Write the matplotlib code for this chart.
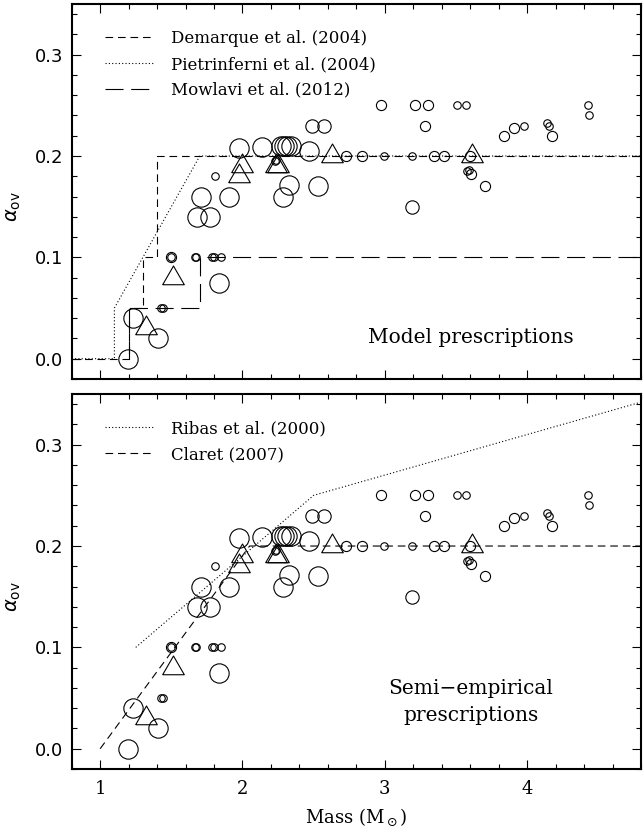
import matplotlib
matplotlib.use('Agg')
import matplotlib.pyplot as plt
from matplotlib.ticker import MultipleLocator

plt.rcParams['lines.scale_dashes'] = False
plt.rcParams['mathtext.fontset'] = 'dejavusans'

# ---------------- data ----------------
circle_mass = [1.194, 1.229, 1.404, 1.428, 1.440, 1.500, 1.500, 1.665, 1.672,
               1.785, 1.800, 1.848, 1.837, 1.712, 1.907, 1.680, 1.774, 1.806,
               1.972, 2.140, 2.269, 2.292, 2.316, 2.339, 2.230, 2.237,
               2.327, 2.285, 2.533, 2.468, 2.487, 2.573, 2.725, 2.837,
               2.970, 2.994, 3.188, 3.211, 3.304, 3.281, 3.347, 3.414,
               3.508, 3.567, 3.600, 3.578, 3.590, 3.608, 3.707, 3.188,
               3.835, 3.905, 3.975, 4.139, 4.155, 4.174, 4.426, 4.438]
circle_alpha = [0.000, 0.040, 0.020, 0.050, 0.050, 0.100, 0.100, 0.100, 0.100,
                0.100, 0.100, 0.100, 0.075, 0.160, 0.160, 0.140, 0.140, 0.180,
                0.208, 0.209, 0.210, 0.210, 0.210, 0.210, 0.195, 0.196,
                0.171, 0.160, 0.170, 0.205, 0.230, 0.230, 0.200, 0.200,
                0.250, 0.200, 0.200, 0.250, 0.250, 0.230, 0.200, 0.200,
                0.250, 0.250, 0.200, 0.185, 0.186, 0.182, 0.170, 0.150,
                0.220, 0.228, 0.230, 0.233, 0.230, 0.220, 0.250, 0.240]
circle_class = ['L', 'L', 'L', 'XS', 'XS', 'S', 'XS', 'XS', 'XS',
                'XS', 'XS', 'XS', 'L', 'L', 'L', 'L', 'L', 'XS',
                'L', 'L', 'L', 'L', 'L', 'L', 'XS', 'XS',
                'L', 'L', 'L', 'L', 'M', 'M', 'S', 'S',
                'S', 'XS', 'XS', 'S', 'S', 'S', 'S', 'S',
                'XS', 'XS', 'S', 'XS', 'XS', 'S', 'S', 'M',
                'S', 'S', 'XS', 'XS', 'XS', 'S', 'XS', 'XS']

tri_mass = [1.32, 1.51, 1.977, 2.00, 2.235, 2.250, 2.63, 3.61]
tri_alpha = [0.030, 0.080, 0.180, 0.190, 0.190, 0.190, 0.200, 0.200]

demarque_mass = [0.8, 1.2, 1.2, 1.3, 1.3, 1.4, 1.4, 4.8]
demarque_alpha = [0.0, 0.0, 0.05, 0.05, 0.10, 0.10, 0.20, 0.20]
pietrinferni_mass = [0.8, 1.1, 1.1, 1.7, 4.8]
pietrinferni_alpha = [0.0, 0.0, 0.05, 0.20, 0.20]
mowlavi_mass = [1.2, 1.2, 1.7, 1.7, 4.8]
mowlavi_alpha = [0.0, 0.05, 0.05, 0.10, 0.10]

ribas_mass = [1.25, 2.5, 4.8]
ribas_alpha = [0.10, 0.25, 0.342]
claret_mass = [1.0, 2.05, 4.8]
claret_alpha = [0.0, 0.20, 0.20]

x_ticks = [1, 2, 3, 4]
y_ticks = [0.0, 0.1, 0.2, 0.3]

# ---------------- style ----------------
size_map = {'L': 13.9, 'M': 9.6, 'S': 7.3, 'XS': 5.4}
tri_marker = [(-1.0, -0.577), (1.0, -0.577), (0.0, 1.155), (-1.0, -0.577)]
SERIF = 'DejaVu Serif'
SANS = 'DejaVu Sans'
short_dash = (5.5, 3.5)
long_dash = (13.0, 5.5)
dotted = (0.8, 1.6)
lw = 0.8

fig = plt.figure(figsize=(6.43, 8.30), dpi=100)
ax_top = fig.add_axes([0.1115, 0.5434, 0.8854, 0.4518])
ax_bot = fig.add_axes([0.1115, 0.0735, 0.8854, 0.4518])


def draw_points(ax):
    for m, a, c in zip(circle_mass, circle_alpha, circle_class):
        ax.plot([m], [a], linestyle='none', marker='o', ms=size_map[c],
                mfc='none', mec='black', mew=0.8, zorder=3)
    ax.plot(tri_mass, tri_alpha, linestyle='none', marker=tri_marker, ms=18,
            mfc='none', mec='black', mew=0.8, zorder=3)


def style_axis(ax, show_xlabels):
    ax.set_xlim(0.8, 4.8)
    ax.set_ylim(-0.02, 0.35)
    ax.set_xticks(x_ticks)
    ax.set_yticks(y_ticks)
    ax.xaxis.set_minor_locator(MultipleLocator(0.2))
    ax.yaxis.set_minor_locator(MultipleLocator(0.02))
    ax.tick_params(which='both', direction='in', top=True, right=True, width=0.8)
    ax.tick_params(which='major', length=6.5)
    ax.tick_params(which='minor', length=3.6)
    ax.tick_params(axis='y', pad=6)
    ax.tick_params(axis='x', pad=8)
    ax.set_yticklabels(['%.1f' % v for v in y_ticks], fontsize=13, family=SANS)
    if show_xlabels:
        ax.set_xticklabels([str(v) for v in x_ticks], fontsize=13, family=SERIF)
    else:
        ax.set_xticklabels([])
    for s in ax.spines.values():
        s.set_linewidth(1.5)
    ax.set_ylabel(r'$\alpha_{\rm ov}$', fontsize=14)
    ax.yaxis.set_label_coords(-0.085, 0.46)


leg_kw = dict(loc='upper left', bbox_to_anchor=(0.058, 0.93), frameon=False,
              prop={'family': SERIF, 'size': 12}, handlelength=3.0,
              handletextpad=0.95, labelspacing=0.52, borderpad=0, borderaxespad=0)

# ---- top panel ----
draw_points(ax_top)
ax_top.plot(demarque_mass, demarque_alpha, color='black', lw=lw, dashes=short_dash,
            label='Demarque et al. (2004)', zorder=2)
ax_top.plot(pietrinferni_mass, pietrinferni_alpha, color='black', lw=lw, dashes=dotted,
            label='Pietrinferni et al. (2004)', zorder=2)
ax_top.plot(mowlavi_mass, mowlavi_alpha, color='black', lw=lw, dashes=long_dash,
            label='Mowlavi et al. (2012)', zorder=2)
style_axis(ax_top, False)
ax_top.legend(**leg_kw)
ax_top.text(3.604, 0.0207, 'Model prescriptions', ha='center', va='center',
            fontsize=14.5, family=SERIF)

# ---- bottom panel ----
draw_points(ax_bot)
ax_bot.plot(ribas_mass, ribas_alpha, color='black', lw=lw, dashes=dotted,
            label='Ribas et al. (2000)', zorder=2)
ax_bot.plot(claret_mass, claret_alpha, color='black', lw=lw, dashes=short_dash,
            label='Claret (2007)', zorder=2)
style_axis(ax_bot, True)
ax_bot.legend(**leg_kw)
ax_bot.text(3.604, 0.059, 'Semi\u2212empirical', ha='center', va='center',
            fontsize=14.5, family=SERIF)
ax_bot.text(3.604, 0.0325, 'prescriptions', ha='center', va='center',
            fontsize=14.5, family=SERIF)
ax_bot.set_xlabel(r'Mass (M$_\odot$)', fontsize=13, family=SERIF, labelpad=6)

fig.savefig('out.png', dpi=100)
